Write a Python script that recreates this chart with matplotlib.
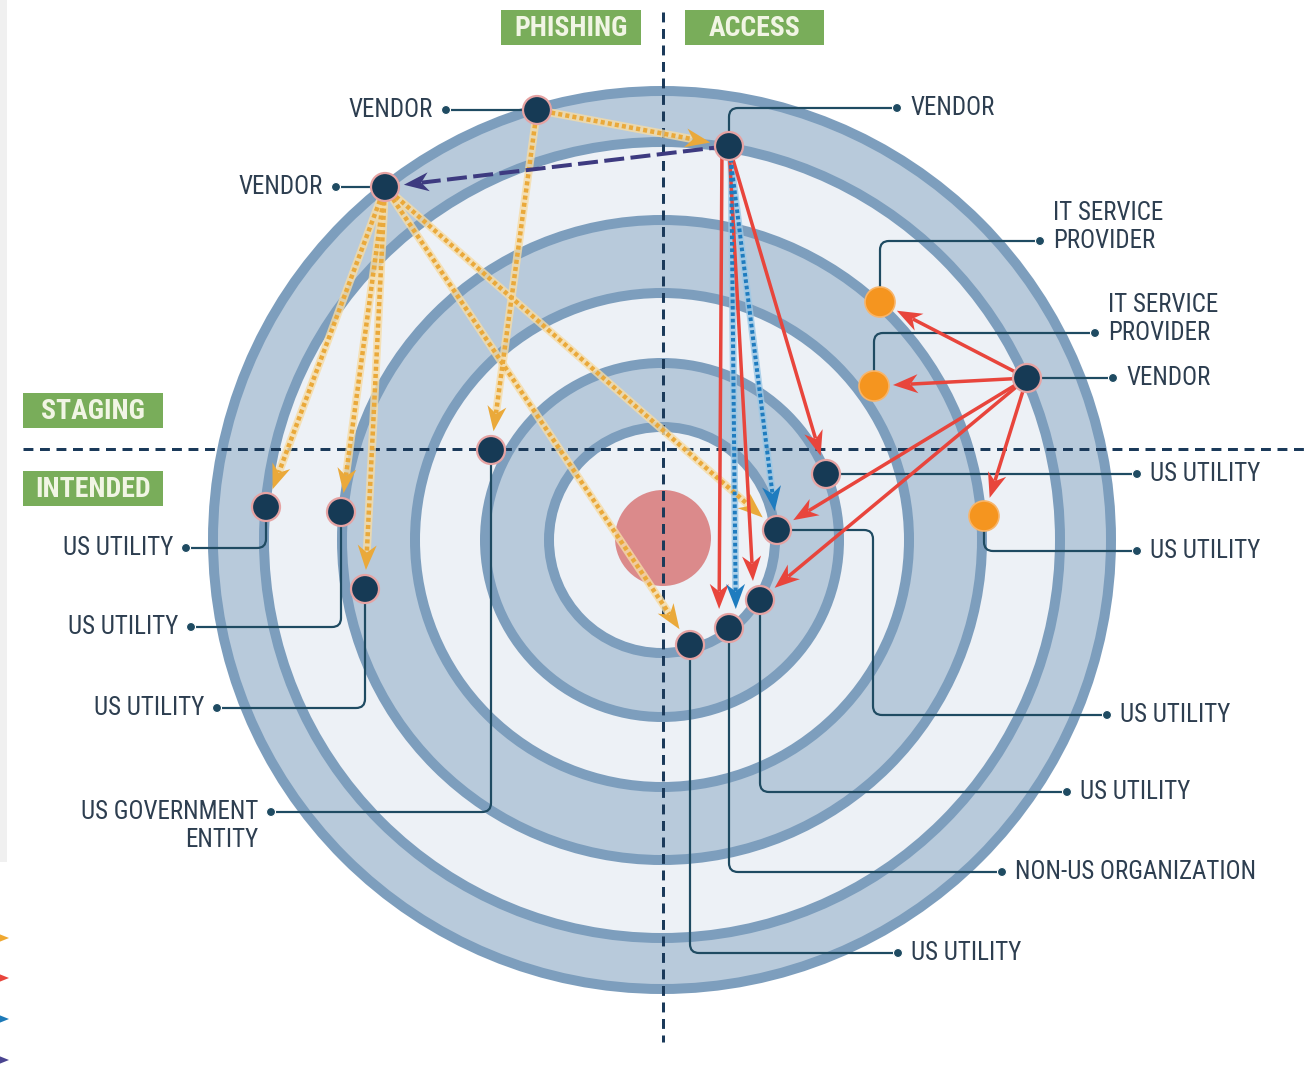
import numpy as np
import matplotlib
matplotlib.use('Agg')
import matplotlib.pyplot as plt
from matplotlib import font_manager as fm
from matplotlib.patches import Circle, Rectangle, Polygon, PathPatch
from matplotlib.path import Path

W, H = 1307, 1081
CX, CY = 662, 540

# ---------------- data ----------------
ring_radii = [449, 398, 320, 247, 177, 113]
ring_fill = ['mid', 'light', 'mid', 'light', 'mid', 'light']

stage_labels = ['PHISHING', 'ACCESS', 'STAGING', 'INTENDED']
stage_box_x = [501, 685, 23, 23]
stage_box_y = [10, 10, 393, 471]
stage_box_w = [140, 139, 140, 140]
stage_box_h = [35, 35, 35, 35]

node_names = ['VP', 'VA', 'VL', 'ITSP1', 'ITSP2', 'VR', 'US1', 'USO', 'US2', 'US3',
              'NONUS', 'US4', 'GOV', 'USL1', 'USL2', 'USL3']
node_x = [537, 729, 385, 880, 874, 1027, 826, 984, 777, 760, 729, 690, 491, 266, 341, 365]
node_y = [110, 146, 187, 302, 386, 378, 474, 516, 530, 600, 628, 645, 450, 507, 512, 589]
node_kind = ['dark', 'dark', 'dark', 'orange', 'orange', 'dark', 'dark', 'orange', 'dark', 'dark',
             'dark', 'dark', 'dark', 'dark', 'dark', 'dark']

label_lines = [['VENDOR'], ['VENDOR'], ['VENDOR'], ['IT SERVICE', 'PROVIDER'], ['IT SERVICE', 'PROVIDER'],
               ['VENDOR'], ['US UTILITY'], ['US UTILITY'], ['US UTILITY'], ['US UTILITY'],
               ['NON-US ORGANIZATION'], ['US UTILITY'], ['US GOVERNMENT', 'ENTITY'],
               ['US UTILITY'], ['US UTILITY'], ['US UTILITY']]
label_anchor_line = [0, 0, 0, 1, 1, 0, 0, 0, 0, 0, 0, 0, 0, 0, 0, 0]
conn_route = ['h', 'vh', 'h', 'vh', 'vh', 'h', 'h', 'vh', 'hvh', 'vh', 'vh', 'vh', 'vh', 'vh', 'vh', 'vh']
conn_dot_x = [446, 897, 336, 1040, 1095, 1113, 1137, 1137, 1107, 1067, 1002, 898, 271, 186, 191, 217]
conn_dot_y = [110, 108, 187, 241, 333, 378, 474, 551, 715, 792, 872, 953, 812, 548, 627, 708]
conn_turn_x = [None, None, None, None, None, None, None, None, 873, None, None, None, None, None, None, None]

arrow_src = ['VP', 'VP', 'VL', 'VL', 'VL', 'VL', 'VL',
             'VA',
             'VA', 'VA', 'VA', 'VR', 'VR', 'VR', 'VR', 'VR',
             'VA', 'VA']
arrow_dst = ['VA', 'GOV', 'USL1', 'USL2', 'USL3', 'US4', 'US2',
             'VL',
             'NONUS', 'US3', 'US1', 'ITSP1', 'ITSP2', 'USO', 'US2', 'US3',
             'NONUS', 'US2']
arrow_kind = ['orange'] * 7 + ['purple'] + ['red'] * 8 + ['blue'] * 2
arrow_src_dx = [0] * 8 + [-7, 0, 0, 0, 0, 0, 0, 0, 2, 0]
arrow_dst_dx = [0] * 8 + [-10, -6, 0, 0, 0, 0, 0, 0, 7, 0]

legend_colors = ['#efa830', '#e8453c', '#1d7ab8', '#4a4490']
legend_y = [938, 978, 1019, 1060]

# ---------------- fonts ----------------
def _is_cond(f):
    st = f.stretch
    if isinstance(st, str):
        return 'condensed' in st or 'narrow' in st
    try:
        return int(st) < 500
    except Exception:
        return False

cond = [f for f in fm.fontManager.ttflist
        if 'Narrow' in f.name or 'Condensed' in f.name or _is_cond(f)]
prio = ['Liberation Sans Narrow', 'Roboto Condensed', 'Noto Sans', 'Open Sans', 'DejaVu Sans']


def pick(bold):
    best = None
    for p in prio:
        for f in cond:
            if f.name.startswith(p) and 'Italic' not in f.fname and f.style == 'normal':
                w = f.weight if isinstance(f.weight, int) else (700 if 'bold' in str(f.weight) else 400)
                score = abs(w - (700 if bold else 400))
                if best is None or score < best[0]:
                    best = (score, f)
        if best is not None:
            return fm.FontProperties(fname=best[1].fname)
    return None

FP_REG = pick(False)
FP_BOLD = pick(True)

# ---------------- style ----------------
C_MID = '#b8cadb'
C_LIGHT = '#edf1f6'
C_STROKE = '#7d9ebd'
C_DASH = '#1b3a5a'
C_NODE = '#163a55'
C_NODE_EDGE = '#e6a3a3'
C_ORANGE_NODE = '#f5951f'
C_CONN = '#1f4b62'
C_TEXT = '#2d3e50'
C_GREEN = '#79ad5a'
PX = 0.72  # points per pixel

plt.rcParams['font.family'] = ['Liberation Sans', 'DejaVu Sans']


def tprops(bold=False):
    fp = FP_BOLD if bold else FP_REG
    if fp is not None:
        return dict(fontproperties=fp)
    return dict(fontstretch='condensed', fontweight='bold' if bold else 'normal')

fig = plt.figure(figsize=(W / 100, H / 100), dpi=100)
ax = fig.add_axes([0, 0, 1, 1])
ax.set_xlim(0, W)
ax.set_ylim(H, 0)
ax.axis('off')
fig.patch.set_facecolor('white')

ax.add_patch(Rectangle((0, 0), 7, 862, facecolor='#f0f0f0', edgecolor='none', zorder=0))

for r, f in zip(ring_radii, ring_fill):
    ax.add_patch(Circle((CX, CY), r, facecolor=C_MID if f == 'mid' else C_LIGHT,
                        edgecolor=C_STROKE, lw=10 * PX, zorder=1))
ax.add_patch(Circle((CX + 1, CY - 2), 48, facecolor='#db8a8b', edgecolor='none', zorder=2))

ax.plot([CX + 1, CX + 1], [12, 1042], color=C_DASH, lw=3 * PX, dashes=(3.3, 2.2), zorder=3,
        dash_capstyle='butt')
ax.plot([23, W], [449, 449], color=C_DASH, lw=3 * PX, dashes=(3.3, 2.2), zorder=3,
        dash_capstyle='butt')

for t, bx, by, bw, bh in zip(stage_labels, stage_box_x, stage_box_y, stage_box_w, stage_box_h):
    ax.add_patch(Rectangle((bx, by), bw, bh, facecolor=C_GREEN, edgecolor='none', zorder=4))
    tk = tprops(True)
    tk['size'] = 20
    ax.text(bx + bw / 2, by + bh / 2 + 1, t, ha='center', va='center', color='#f1f5e4',
            zorder=5, **tk)

pos = {n: (x, y) for n, x, y in zip(node_names, node_x, node_y)}


def rounded(points, r=9):
    verts = [points[0]]
    codes = [Path.MOVETO]
    for i in range(1, len(points) - 1):
        p0 = np.array(points[i - 1], float)
        p = np.array(points[i], float)
        p1 = np.array(points[i + 1], float)
        u0 = (p - p0) / np.linalg.norm(p - p0)
        u1 = (p1 - p) / np.linalg.norm(p1 - p)
        verts += [tuple(p - r * u0), tuple(p), tuple(p + r * u1)]
        codes += [Path.LINETO, Path.CURVE3, Path.CURVE3]
    verts.append(points[-1])
    codes.append(Path.LINETO)
    return Path(verts, codes)


for i, n in enumerate(node_names):
    x, y = pos[n]
    dx, dy = conn_dot_x[i], conn_dot_y[i]
    route = conn_route[i]
    if route == 'h':
        pts = [(x, y), (dx, dy)]
    elif route == 'vh':
        pts = [(x, y), (x, dy), (dx, dy)]
    else:
        tx = conn_turn_x[i]
        pts = [(x, y), (tx, y), (tx, dy), (dx, dy)]
    ax.add_patch(PathPatch(rounded(pts), facecolor='none', edgecolor=C_CONN, lw=2.2 * PX,
                           zorder=6, capstyle='round'))
    ax.add_patch(Circle((dx, dy), 4.5, facecolor=C_CONN, edgecolor='white', lw=0.8, zorder=6))
    right = dx > x
    tx = dx + 13 if right else dx - 13
    for k, line in enumerate(label_lines[i]):
        ly = dy + (k - label_anchor_line[i]) * 28
        tk = tprops(False)
        tk['size'] = 18
        ax.text(tx, ly, line, ha='left' if right else 'right', va='center', color=C_TEXT,
                zorder=6, **tk)

arrow_style = {
    'orange': dict(color='#eaa93a', under='#f6dca6', lw=4.5, ulw=8, dashes=(0.9, 0.7)),
    'red': dict(color='#e8453c', under=None, lw=3.5, ulw=0, dashes=None),
    'blue': dict(color='#1f7cbf', under='#9cc8e6', lw=4.0, ulw=7, dashes=(0.9, 0.7)),
    'purple': dict(color='#3d3a80', under=None, lw=4.0, ulw=0, dashes=(5, 1.6)),
}
HEAD_L, HEAD_W = 25, 9.5
GAP = 19
for s, d, kind, sdx, ddx in zip(arrow_src, arrow_dst, arrow_kind, arrow_src_dx, arrow_dst_dx):
    st = arrow_style[kind]
    p0 = np.array(pos[s], float) + [sdx, 0]
    tgt = np.array(pos[d], float) + [ddx, 0]
    v = tgt - p0
    u = v / np.linalg.norm(v)
    nrm = np.array([-u[1], u[0]])
    tip = tgt - u * GAP
    back = tip - u * HEAD_L * 0.72
    if st['under']:
        ax.plot([p0[0], back[0]], [p0[1], back[1]], color=st['under'], lw=st['ulw'] * PX,
                solid_capstyle='butt', zorder=7, alpha=0.8)
    kw = dict(color=st['color'], lw=st['lw'] * PX, zorder=8, solid_capstyle='butt')
    if st['dashes']:
        kw['dashes'] = st['dashes']
        kw['dash_capstyle'] = 'butt'
    ax.plot([p0[0], back[0]], [p0[1], back[1]], **kw)
    head = [tuple(tip), tuple(tip - u * HEAD_L + nrm * HEAD_W), tuple(tip - u * HEAD_L * 0.7),
            tuple(tip - u * HEAD_L - nrm * HEAD_W)]
    ax.add_patch(Polygon(head, closed=True, facecolor=st['color'], edgecolor='none', zorder=8))

for n, k in zip(node_names, node_kind):
    x, y = pos[n]
    if k == 'dark':
        ax.add_patch(Circle((x, y), 14, facecolor=C_NODE, edgecolor=C_NODE_EDGE, lw=1.6, zorder=9))
    else:
        ax.add_patch(Circle((x, y), 15, facecolor=C_ORANGE_NODE, edgecolor='#f8b56a', lw=1.2, zorder=9))

for c, y in zip(legend_colors, legend_y):
    ax.add_patch(Polygon([(-6, y - 6), (9, y), (-6, y + 6), (-2, y)], closed=True,
                         facecolor=c, edgecolor='none', zorder=9))

fig.savefig('out.png', dpi=100)
